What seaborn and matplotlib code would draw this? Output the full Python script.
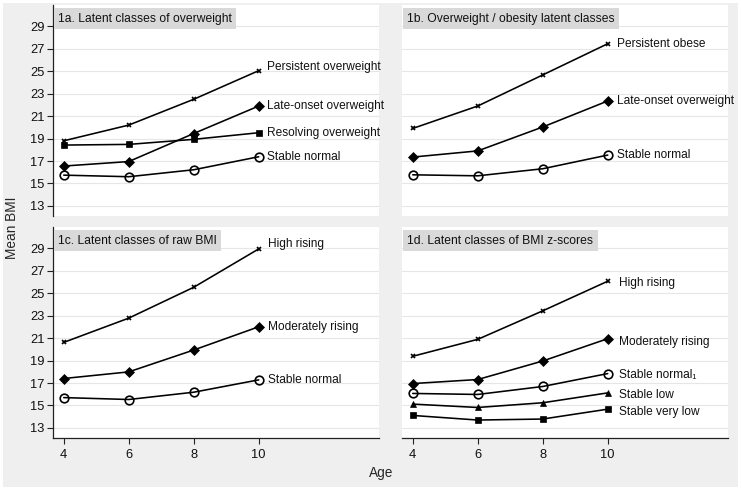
import matplotlib
matplotlib.use("Agg")
import matplotlib.pyplot as plt
import seaborn as sns
import pandas as pd
from matplotlib.patches import Rectangle

sns.set_theme(style="white")
plt.rcParams['font.family'] = ['Liberation Sans', 'DejaVu Sans']

ages = [4, 6, 8, 10]
y_ticks = [13, 15, 17, 19, 21, 23, 25, 27, 29]
x_ticks = [4, 6, 8, 10]

titles = ["1a. Latent classes of overweight",
          "1b. Overweight / obesity latent classes",
          "1c. Latent classes of raw BMI",
          "1d. Latent classes of BMI z-scores"]

# Panel 1a
a_names = ["Persistent overweight", "Late-onset overweight", "Resolving overweight", "Stable normal"]
a_persistent = [18.8, 20.2, 22.5, 25.05]
a_late = [16.55, 16.95, 19.45, 21.9]
a_resolving = [18.42, 18.48, 18.93, 19.52]
a_stable = [15.74, 15.6, 16.22, 17.38]

# Panel 1b
b_names = ["Persistent obese", "Late-onset overweight", "Stable normal"]
b_persistent = [19.9, 21.9, 24.67, 27.45]
b_late = [17.35, 17.9, 20.03, 22.35]
b_stable = [15.77, 15.68, 16.31, 17.53]

# Panel 1c
c_names = ["High rising", "Moderately rising", "Stable normal"]
c_high = [20.62, 22.78, 25.53, 28.95]
c_moderate = [17.4, 17.99, 19.94, 22.01]
c_stable = [15.7, 15.53, 16.18, 17.28]

# Panel 1d
d_names = ["High rising", "Moderately rising", "Stable normal\u2081", "Stable low", "Stable very low"]
d_high = [19.38, 20.89, 23.43, 26.07]
d_moderate = [16.95, 17.31, 18.96, 20.95]
d_stable = [16.07, 15.98, 16.69, 17.84]
d_low = [15.12, 14.82, 15.24, 16.12]
d_verylow = [14.11, 13.7, 13.79, 14.67]

panels = [
    (a_names, [a_persistent, a_late, a_resolving, a_stable], ['x', 'D', 's', 'o'], [4, 0, 0, 0], 6),
    (b_names, [b_persistent, b_late, b_stable], ['x', 'D', 'o'], [0, 0, 0], 6.5),
    (c_names, [c_high, c_moderate, c_stable], ['x', 'D', 'o'], [5, 0, 0], 7),
    (d_names, [d_high, d_moderate, d_stable, d_low, d_verylow], ['x', 'D', 'o', '^', 's'], [-2, -3, -1, -2, -3], 8),
]

W, H = 741, 490
fig = plt.figure(figsize=(W / 100, H / 100), dpi=100, facecolor='white')
bg = Rectangle((3 / W, 3 / H), (W - 6) / W, (H - 6) / H,
               transform=fig.transFigure, facecolor='#efefef',
               edgecolor='none', zorder=-10)
fig.patches.append(bg)

boxes = [(53, 5, 379, 216), (402, 5, 728, 216), (53, 227, 379, 438), (402, 227, 728, 438)]
msizes = {'x': 3.2, 'D': 5, 's': 4.6, 'o': 6.2, '^': 4.4}

for i, (box, (names, series, markers, dys, dx)) in enumerate(zip(boxes, panels)):
    x0, y0, x1, y1 = box
    ax = fig.add_axes([x0 / W, 1 - y1 / H, (x1 - x0) / W, (y1 - y0) / H])
    ax.set_zorder(1)
    ax.set_facecolor('white')
    for yt in y_ticks:
        ax.axhline(yt, color='#e6e6e6', lw=0.8, zorder=0)
    for name, vals, mk, dy in zip(names, series, markers, dys):
        df = pd.DataFrame({'Age': ages, 'BMI': vals})
        hollow = mk == 'o'
        sns.lineplot(data=df, x='Age', y='BMI', ax=ax, color='black', lw=1.15,
                     marker=mk, markersize=msizes[mk],
                     markerfacecolor='none' if hollow else 'black',
                     markeredgecolor='black',
                     markeredgewidth=1.2 if mk in ('o', 'x') else 0.5)
        ax.annotate(name, xy=(ages[-1], vals[-1]), xytext=(dx, dy * 0.72),
                    textcoords='offset points', va='center', ha='left',
                    fontsize=8.6, color='#111111')
    ax.set_xlim(3.67, 13.7)
    ax.set_ylim(12.1, 30.9)
    ax.set_xlabel('')
    ax.set_ylabel('')
    for s in ax.spines.values():
        s.set_visible(False)
    left = i in (0, 2)
    bottom = i in (2, 3)
    if left:
        ax.spines['left'].set_visible(True)
        ax.spines['left'].set_color('#222222')
        ax.spines['left'].set_linewidth(0.9)
        ax.set_yticks(y_ticks)
        ax.tick_params(axis='y', left=True, length=4, width=0.8, color='#222222',
                       labelsize=9.3, pad=2, labelcolor='#111111')
    else:
        ax.set_yticks([])
    if bottom:
        ax.spines['bottom'].set_visible(True)
        ax.spines['bottom'].set_color('#222222')
        ax.spines['bottom'].set_linewidth(0.9)
        ax.set_xticks(x_ticks)
        ax.tick_params(axis='x', bottom=True, length=4, width=0.8, color='#222222',
                       labelsize=9.3, pad=4, labelcolor='#111111')
    else:
        ax.set_xticks([])
    ax.grid(False)
    ax.annotate(titles[i], xy=(0, 1), xycoords='axes fraction', xytext=(3.8, -5.5),
                textcoords='offset points', ha='left', va='top', fontsize=8.7,
                color='#111111', zorder=10,
                bbox=dict(boxstyle='square,pad=0.35', facecolor='#d9d9d9', edgecolor='none'))

fig.text(12 / W, 1 - 228 / H, 'Mean BMI', rotation=90, ha='center', va='center', fontsize=9.8)
fig.text(381 / W, 1 - 473 / H, 'Age', ha='center', va='center', fontsize=9.8)

fig.savefig('out.png', dpi=100, facecolor=fig.get_facecolor())
